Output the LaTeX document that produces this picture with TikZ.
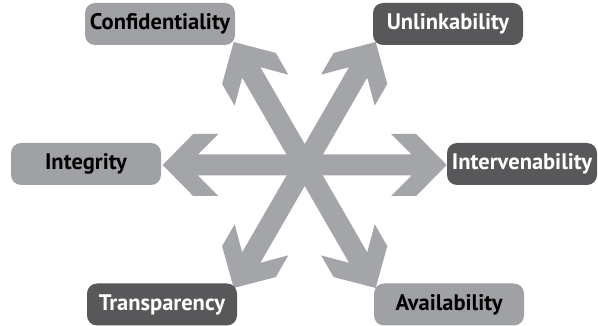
\documentclass[tikz,border=0pt]{standalone}
\usepackage{fontspec}
\newfontfamily\boxfont{PT Sans}
\definecolor{boxlight}{RGB}{160,161,164}
\definecolor{boxdark}{RGB}{88,88,90}
\definecolor{spokegray}{RGB}{164,165,168}
\tikzstyle{lightbox}=[rounded corners=10pt,fill=boxlight,text=black,minimum width=150pt,minimum height=42pt,inner sep=0pt,font=\boxfont\bfseries\fontsize{22.5}{22.5}\selectfont]
\tikzstyle{darkbox}=[lightbox,fill=boxdark,text=white]
\tikzstyle{spoke}=[fill=spokegray]

\begin{document}
\begin{tikzpicture}[x=1pt,y=-1pt]
    \useasboundingbox (0,0) rectangle (598,326);
    \coordinate (hub) at (304.7,165);
    % fleches
    \foreach \a in {0,60,120}
    {
        \begin{scope}[shift={(hub)},rotate=\a]
            \path[spoke] (142,0) -- (111.5,31) -- (86.4,31) -- (106.9,10.5) -- (-106.9,10.5) -- (-86.4,31) -- (-111.5,31) -- (-142,0)
                -- (-111.5,-31) -- (-86.4,-31) -- (-106.9,-10.5) -- (106.9,-10.5) -- (86.4,-31) -- (111.5,-31) -- cycle;
        \end{scope}
    }
    % boites
    \foreach \pos/\name/\txt in {{(160,24)/conf/Confidentiality}, {(86,164)/integ/Integrity}, {(449,304.5)/avail/Availability}}
        \node[lightbox] (\name) at \pos {\txt};
    \foreach \pos/\name/\txt in {{(448,24)/unlink/Unlinkability}, {(522,164)/interv/Intervenability}, {(162,304.5)/transp/Transparency}}
        \node[darkbox] (\name) at \pos {\txt};
\end{tikzpicture}
\end{document}
